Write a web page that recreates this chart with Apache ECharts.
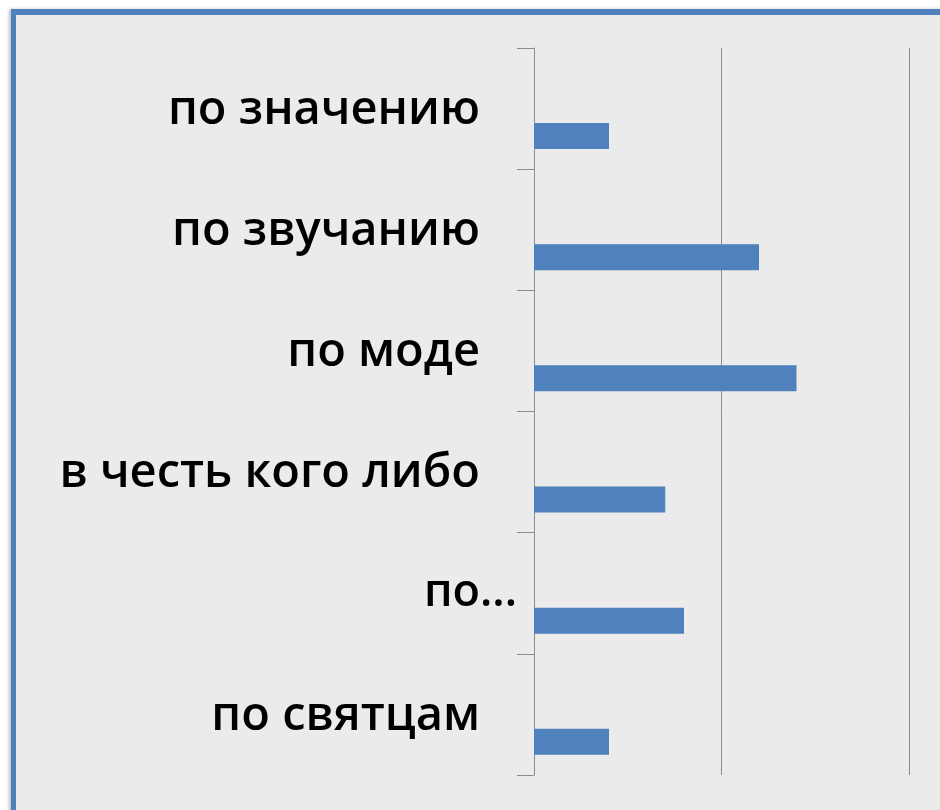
<!DOCTYPE html>
<html>
<head>
<meta charset="utf-8">
<script src="https://cdn.jsdelivr.net/npm/echarts@6/dist/echarts.min.js"></script>
<style>
  html, body { margin: 0; padding: 0; background: #ffffff; }
  #frame {
    position: absolute; left: 11px; top: 9px; width: 940px; height: 810px;
    border-top: 6px solid #4f81bd; border-left: 5px solid #4f81bd;
    background: #ebebeb; box-shadow: -2px 0 3px rgba(0,0,0,0.25);
  }
  #main { position: absolute; left: 0; top: 0; width: 940px; height: 810px; }
</style>
</head>
<body>
<div id="frame"></div>
<div id="main"></div>
<script>
var categories = ["по значению", "по звучанию", "по моде", "в честь кого либо", "по...", "по святцам"];
var values = [2, 6, 7, 3.5, 4, 2];
var emptySeries = ["-", "-", "-", "-", "-", "-"];

var myChart = echarts.init(document.getElementById("main"));
myChart.setOption({
  animation: false,
  grid: {
    left: 534,
    right: 31,
    top: 48,
    bottom: 35
  },
  xAxis: {
    type: "value",
    min: 0,
    max: 10,
    interval: 5,
    axisLabel: { show: false },
    axisLine: { show: false },
    axisTick: { show: false },
    splitLine: {
      lineStyle: { color: "#8c8c8c", width: 1 }
    }
  },
  yAxis: {
    type: "category",
    inverse: true,
    data: categories,
    axisLine: { show: true, lineStyle: { color: "#8c8c8c", width: 1 } },
    axisTick: { show: true, length: 17, lineStyle: { color: "#8c8c8c", width: 1 } },
    axisLabel: {
      margin: 17,
      formatter: function (v) {
        return v === "по..." ? "{e|" + v + "}" : "{n|" + v + "}";
      },
      rich: {
        n: {
          fontFamily: "Open Sans",
          fontWeight: 600,
          fontSize: 47,
          color: "#000",
          padding: [4, 37, 0, 0]
        },
        e: {
          fontFamily: "Open Sans",
          fontWeight: 600,
          fontSize: 45,
          color: "#000",
          padding: [0, 0, 0, 0]
        }
      }
    }
  },
  series: [
    {
      // пустой ряд, занимает верхнее место в группе
      type: "bar",
      data: emptySeries,
      barWidth: 26,
      barGap: "111%"
    },
    {
      type: "bar",
      data: values,
      barWidth: 26,
      barGap: "111%",
      itemStyle: { color: "#4f81bd" }
    }
  ]
});
</script>
</body>
</html>
